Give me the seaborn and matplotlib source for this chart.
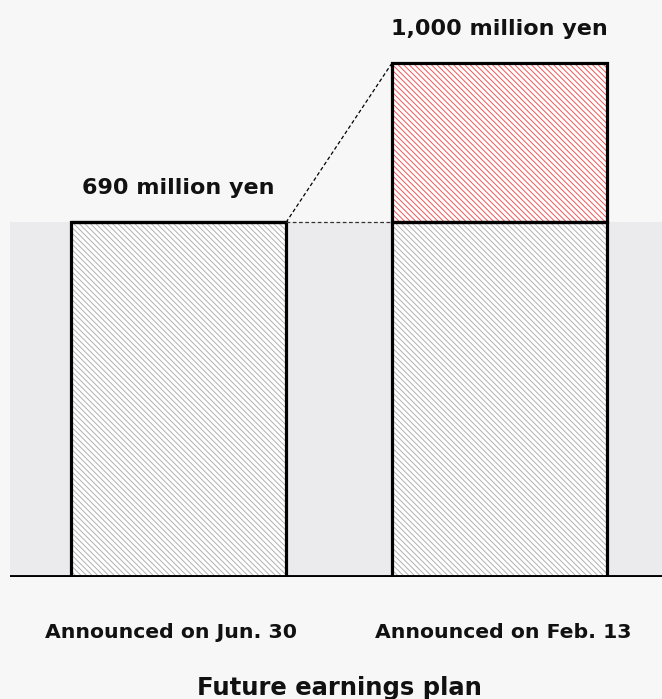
import seaborn as sns
import pandas as pd
import matplotlib.pyplot as plt

# data
labels = ['Announced on Jun. 30', 'Announced on Feb. 13']
totals = [690, 1000]
base = [690, 690]
increase = [0, 310]
value_text = ['690 million yen', '1,000 million yen']
title = 'Future earnings plan'

df = pd.DataFrame({'label': labels, 'base': base, 'increase': increase, 'total': totals})

sns.set_style('white')
plt.rcParams['font.family'] = ['DejaVu Sans']
plt.rcParams['hatch.linewidth'] = 0.7

bg = '#f7f7f7'
fig = plt.figure(figsize=(6.62, 6.99), dpi=100, facecolor=bg)
ax = fig.add_axes([10 / 662, 122 / 699, 652 / 662, 577 / 699])
ax.set_facecolor(bg)

bw = 0.67

# gray band up to the old plan
ax.axhspan(0, base[0], color='#ebebed', zorder=0, lw=0)


def restyle(start, **props):
    for p in ax.patches[start:]:
        p.set(**props)


# hatched base part
n = len(ax.patches)
sns.barplot(data=df, x='label', y='base', width=bw, errorbar=None, color='white', ax=ax)
restyle(n, facecolor='white', edgecolor='#b0b0b0', hatch='\\\\\\\\\\\\', linewidth=0, zorder=2)

# red hatched increase
n = len(ax.patches)
sns.barplot(data=df, x='label', y='increase', bottom=base, width=bw, errorbar=None,
            color='white', ax=ax)
restyle(n, facecolor='white', edgecolor='#f05555', hatch='\\\\\\\\\\\\', linewidth=0, zorder=2)

# black outlines
n = len(ax.patches)
sns.barplot(data=df, x='label', y='base', width=bw, errorbar=None, color='white', ax=ax)
sns.barplot(data=df, x='label', y='increase', bottom=base, width=bw, errorbar=None,
            color='white', ax=ax)
restyle(n, facecolor='none', edgecolor='black', linewidth=2.3, zorder=3)

# dashed connectors
ax.plot([bw / 2, 1 - bw / 2], [totals[0], totals[1]], color='black', lw=0.9,
        dashes=(3, 2), zorder=3)
ax.plot([bw / 2, 1 - bw / 2], [totals[0], totals[0]], color='#333333', lw=0.9,
        dashes=(3, 2), zorder=3)

# baseline
ax.axhline(0, color='black', lw=2.8, zorder=4)

# value labels
for i, t in enumerate(value_text):
    ax.text(i, totals[i] + 66, t, ha='center', va='center', fontsize=16,
            fontweight='bold', color='#111111')

ax.set_xlim(-0.525, 1.506)
ax.set_ylim(0, 1000 * 577 / 514)
ax.set_yticks([])
ax.set_xlabel('')
ax.set_ylabel('')
# labels sit slightly off the bar centres in the original
ax.set_xticks([-0.023, 1.012], labels)
ax.tick_params(axis='x', length=0, pad=33, labelsize=14.7)
for lbl in ax.get_xticklabels():
    lbl.set_fontweight('bold')
    lbl.set_color('#111111')
for s in ax.spines.values():
    s.set_visible(False)

fig.text(339 / 662, 4 / 699, title, ha='center', va='baseline', fontsize=17.5,
         fontweight='bold', color='#111111')

fig.savefig('out.png', dpi=100, facecolor=bg)
